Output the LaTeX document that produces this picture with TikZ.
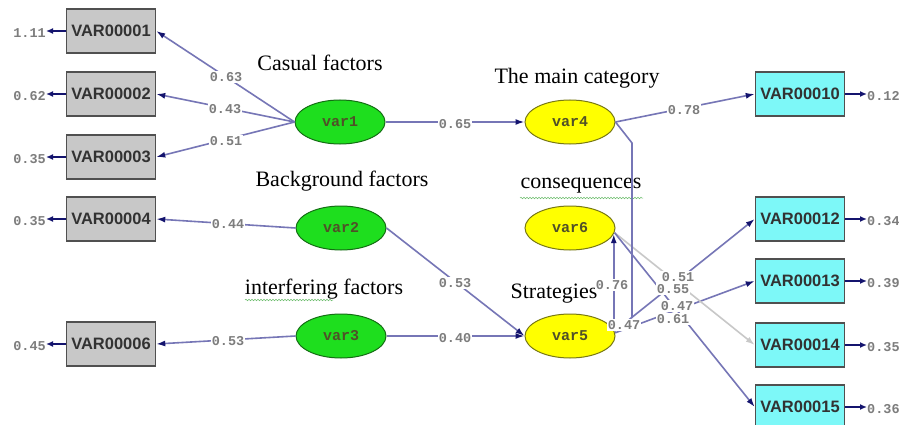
\documentclass[tikz,border=0pt]{standalone}
\usepackage{fontspec}
\setmainfont{Liberation Serif}
\newfontfamily\boxfont{Liberation Sans}
\newfontfamily\monofont{Liberation Mono}
\usetikzlibrary{arrows.meta,shapes.geometric,decorations.pathmorphing}
\definecolor{linec}{RGB}{118,118,182}
\definecolor{arrc}{RGB}{20,20,110}
\definecolor{lgray}{RGB}{200,200,200}
\definecolor{grayfill}{RGB}{200,200,200}
\definecolor{cyanfill}{RGB}{125,248,248}
\definecolor{greenfill}{RGB}{30,222,30}
\definecolor{greenedge}{RGB}{20,110,20}
\definecolor{yellowfill}{RGB}{255,255,0}
\definecolor{yellowedge}{RGB}{120,120,20}
\definecolor{numc}{RGB}{125,125,125}
\definecolor{edgec}{RGB}{80,80,80}
\definecolor{boxtext}{RGB}{50,50,50}
\definecolor{vartext}{RGB}{80,80,40}
\definecolor{squig}{RGB}{110,190,110}
\begin{document}
\begin{tikzpicture}[x=1pt,y=-1pt,
  obs/.style={draw=edgec,line width=1.5pt,minimum width=89pt,minimum height=44pt,inner sep=0pt,
    font=\boxfont\bfseries\fontsize{16.5}{16.5}\selectfont,text=boxtext},
  gobs/.style={obs,fill=grayfill},
  cobs/.style={obs,fill=cyanfill},
  lat/.style={ellipse,line width=1pt,minimum width=90pt,minimum height=44pt,inner sep=0pt,
    font=\monofont\bfseries\fontsize{15}{15}\selectfont},
  glat/.style={lat,draw=greenedge,fill=greenfill,text=vartext},
  ylat/.style={lat,draw=yellowedge,fill=yellowfill,text=vartext},
  conn/.style={draw=linec,line width=1.6pt,-{Latex[length=9pt,width=6pt,color=arrc]}},
  lconn/.style={draw=lgray,line width=1.6pt,-{Latex[length=9pt,width=6pt,color=lgray]}},
  plain/.style={draw=linec,line width=1.6pt},
  errconn/.style={draw=arrc,line width=1.8pt,-{Latex[length=7pt,width=6pt]}},
  num/.style={fill=white,inner sep=1pt,text=numc,font=\monofont\bfseries\fontsize{13.5}{13.5}\selectfont},
  err/.style={inner sep=0pt,text=numc,font=\monofont\bfseries\fontsize{13.5}{13.5}\selectfont},
  ttl/.style={inner sep=0pt,font=\fontsize{22}{22}\selectfont},
  wavy/.style={draw=squig,line width=0.5pt,decorate,decoration={snake,amplitude=0.8pt,segment length=3pt}}
]
\fill[white] (0,0) rectangle (899,425);
\useasboundingbox (0,0) rectangle (899,425);

% observed left
\node[gobs] (v1) at (111,31) {VAR00001};
\node[gobs] (v2) at (111,94) {VAR00002};
\node[gobs] (v3) at (111,157) {VAR00003};
\node[gobs] (v4) at (111,219) {VAR00004};
\node[gobs] (v6) at (111,344) {VAR00006};
% observed right
\node[cobs] (v10) at (800,94) {VAR00010};
\node[cobs] (v12) at (800,219) {VAR00012};
\node[cobs] (v13) at (800,281) {VAR00013};
\node[cobs] (v14) at (800,345) {VAR00014};
\node[cobs] (v15) at (800,407) {VAR00015};
% latent
\node[glat] (var1) at (340,122) {var1};
\node[glat] (var2) at (341,228) {var2};
\node[glat] (var3) at (341,336) {var3};
\node[ylat] (var4) at (570,122) {var4};
\node[ylat] (var6) at (570,228) {var6};
\node[ylat] (var5) at (570,336) {var5};

% titles
\node[ttl] (t1) at (320,63) {Casual factors};
\node[ttl] (t2) at (342,181) {Background factors};
\node[ttl] (t3) at (324,289) {interfering factors};
\node[ttl] (t4) at (577,78) {The main category};
\node[ttl] (t5) at (581,186) {consequences};
\node[ttl] (t6) at (554,294) {Strategies};
\coordinate (s1a) at (520,198); \coordinate (s1b) at (643,198);
\coordinate (s2a) at (245,300); \coordinate (s2b) at (333,300);
\draw[wavy] (s1a) -- (s1b);
\draw[wavy] (s2a) -- (s2b);

% errors left
\node[err,anchor=east] (e1) at (46,33) {1.11};
\node[err,anchor=east] (e2) at (46,96) {0.62};
\node[err,anchor=east] (e3) at (46,159) {0.35};
\node[err,anchor=east] (e4) at (46,221) {0.35};
\node[err,anchor=east] (e6) at (46,346) {0.45};
\draw[errconn] (v1.west) -- (e1.east |- v1.west);
\draw[errconn] (v2.west) -- (e2.east |- v2.west);
\draw[errconn] (v3.west) -- (e3.east |- v3.west);
\draw[errconn] (v4.west) -- (e4.east |- v4.west);
\draw[errconn] (v6.west) -- (e6.east |- v6.west);
% errors right
\node[err,anchor=west] (e10) at (867,96) {0.12};
\node[err,anchor=west] (e12) at (867,221) {0.34};
\node[err,anchor=west] (e13) at (867,283) {0.39};
\node[err,anchor=west] (e14) at (867,347) {0.35};
\node[err,anchor=west] (e15) at (867,409) {0.36};
\draw[errconn] (v10.east) -- (e10.west |- v10.east);
\draw[errconn] (v12.east) -- (e12.west |- v12.east);
\draw[errconn] (v13.east) -- (e13.west |- v13.east);
\draw[errconn] (v14.east) -- (e14.west |- v14.east);
\draw[errconn] (v15.east) -- (e15.west |- v15.east);

% paths
\draw[conn] (var1.west) -- (v1.east);
\draw[conn] (var1.west) -- (v2.east);
\draw[conn] (var1.west) -- (v3.east);
\draw[conn] (var2.west) -- (v4.east);
\draw[conn] (var3.west) -- (v6.east);
\draw[conn] (var1.east) -- (var4.west);
\draw[conn] (var4.east) -- (v10.west);
\draw[conn] (var2.east) -- (var5.west);
\draw[conn] (var3.east) -- (var5.west);
\draw[conn] (var5.8) -- (var6.-8);
\draw[conn] (var5.6) -- (v12.west);
\draw[conn] (var5.4) -- (v13.west);
\draw[lconn] (var6.-6) -- (v14.west);
\draw[conn] (var6.-6) -- (v15.west);

% path labels
\node[num] (n1) at (226,77) {0.63};
\node[num] (n2) at (225,109) {0.43};
\node[num] (n3) at (226,141) {0.51};
\node[num] (n4) at (228,224) {0.44};
\node[num] (n6) at (228,341) {0.53};
\node[num] (n14) at (455,124) {0.65};
\node[num] (n410) at (684,110) {0.78};
\node[num] (n25) at (455,283) {0.53};
\node[num] (n35) at (455,338) {0.40};
\node[num] (n56) at (612,285) {0.76};
\node[num] (n12) at (678,277) {0.51};
\node[num] (n14b) at (673,289) {0.55};
\node[num] (n13) at (677,306) {0.47};
\node[num] (n15) at (673,319) {0.61};
\node[num] (n45) at (624,325) {0.47};

% var4 to var5 bent line
\coordinate (b1) at (632,143);
\coordinate (b2) at (632,318);
\draw[plain] (var4.east) -- (b1) -- (b2);
\end{tikzpicture}
\end{document}
